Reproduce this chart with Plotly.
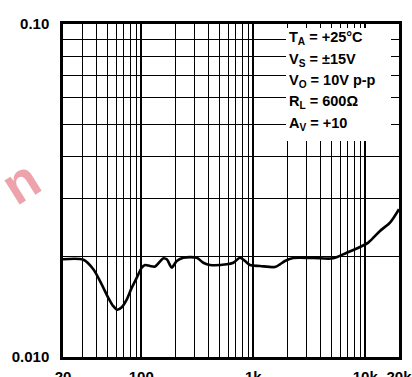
import math
import plotly.graph_objects as go

# Data (THD+N % vs frequency, Hz)
freq = [20, 30.4, 37.3, 44.3, 50.8, 56.3, 61.1, 66.9, 74.1, 82.1, 91.0, 100.9,
        108, 119.6, 132.6, 146.9, 157.9, 169.7, 186.9, 207.2, 237.2, 312.5,
        357.9, 410.8, 579, 663, 761, 844, 934, 1148, 1563, 1732, 1920, 2277,
        3435, 5180, 6825, 8970, 10640, 13530, 16620, 20000]
thd = [0.01965, 0.01958, 0.01834, 0.01652, 0.01505, 0.01421, 0.01387, 0.01411,
       0.01488, 0.01613, 0.01729, 0.01854, 0.01889, 0.01876, 0.01869, 0.01935,
       0.01979, 0.01962, 0.01857, 0.01942, 0.01987, 0.01987, 0.01919, 0.01889,
       0.01898, 0.01919, 0.01987, 0.01942, 0.01889, 0.01876, 0.01863, 0.01898,
       0.01942, 0.01983, 0.01983, 0.01979, 0.02057, 0.0214, 0.02206, 0.02391,
       0.02533, 0.0278]

x_major = [20, 100, 1000, 10000, 20000]
x_major_text = ["20", "100", "1k", "10k", "20k"]
x_minor = [30, 40, 50, 60, 70, 80, 90,
           200, 300, 400, 500, 600, 700, 800, 900,
           2000, 3000, 4000, 5000, 6000, 7000, 8000, 9000]
y_major = [0.01, 0.1]
y_major_text = ["0.010", "0.10"]
y_minor = [0.02, 0.03, 0.04, 0.05, 0.06, 0.07, 0.08, 0.09]

cond_lines = ["T<sub>A</sub> = +25°C", "V<sub>S</sub> = ±15V", "V<sub>O</sub> = 10V p-p",
              "R<sub>L</sub> = 600Ω", "A<sub>V</sub> = +10"]

FONT = "Liberation Sans, Arial, sans-serif"
W, H = 412, 377
L, R, T, B = 63, 13, 24, 20
pw, ph = W - L - R, H - T - B

def px(x):
    return (x - L) / pw

def py(y):
    return (H - B - y) / ph

eps = 1e-5
xr = [math.log10(x_major[0]) - eps, math.log10(x_major[-1]) + eps]
yr = [math.log10(y_major[0]) - eps, math.log10(y_major[-1]) + eps]

fig = go.Figure()
fig.add_trace(go.Scatter(x=freq, y=thd, mode="lines",
                         line=dict(color="black", width=2.6, shape="spline", smoothing=0.8),
                         showlegend=False, hoverinfo="skip"))

fig.update_xaxes(type="log", range=xr, automargin=False, ticklabeloverflow="allow",
                 tickvals=x_major, ticktext=x_major_text, ticks="",
                 tickfont=dict(family=FONT, size=15, color="black", weight="bold"),
                 ticklabelstandoff=4,
                 showgrid=True, gridcolor="black", gridwidth=2,
                 minor=dict(tickvals=x_minor, showgrid=True, gridcolor="black", gridwidth=1.3, ticks=""),
                 showline=True, mirror=True, linecolor="black", linewidth=2.5,
                 zeroline=False, fixedrange=True)
fig.update_yaxes(type="log", range=yr, automargin=False, ticklabeloverflow="allow",
                 tickvals=y_major, ticktext=y_major_text, ticks="",
                 tickfont=dict(family=FONT, size=15, color="black", weight="bold"),
                 ticklabelstandoff=8,
                 showgrid=True, gridcolor="black", gridwidth=1.3,
                 minor=dict(tickvals=y_minor, showgrid=True, gridcolor="black", gridwidth=1.3, ticks=""),
                 showline=True, mirror=True, linecolor="black", linewidth=2.5,
                 zeroline=False, fixedrange=True)

# white box behind the conditions text
fig.add_shape(type="rect", xref="paper", yref="paper",
              x0=px(286), x1=px(391), y0=py(141), y1=py(28),
              fillcolor="white", line=dict(width=0), layer="above")

centers = [37, 58.5, 79.5, 100.5, 122]
for txt, cy in zip(cond_lines, centers):
    fig.add_annotation(text=txt, xref="paper", yref="paper", x=px(287), y=py(cy + 1.5),
                       xanchor="left", yanchor="middle", showarrow=False,
                       font=dict(family=FONT, size=14.5, color="black", weight="bold"))

# watermark fragment
fig.add_annotation(text="n", xref="paper", yref="paper", x=px(20), y=py(182),
                   xanchor="center", yanchor="middle", showarrow=False, textangle=-32,
                   font=dict(family=FONT, size=54, color="#EDA3AC", weight="bold"))

fig.update_layout(width=W, height=H, margin=dict(l=L, r=R, t=T, b=B),
                  paper_bgcolor="white", plot_bgcolor="white", showlegend=False)

fig.write_html("out.html")
